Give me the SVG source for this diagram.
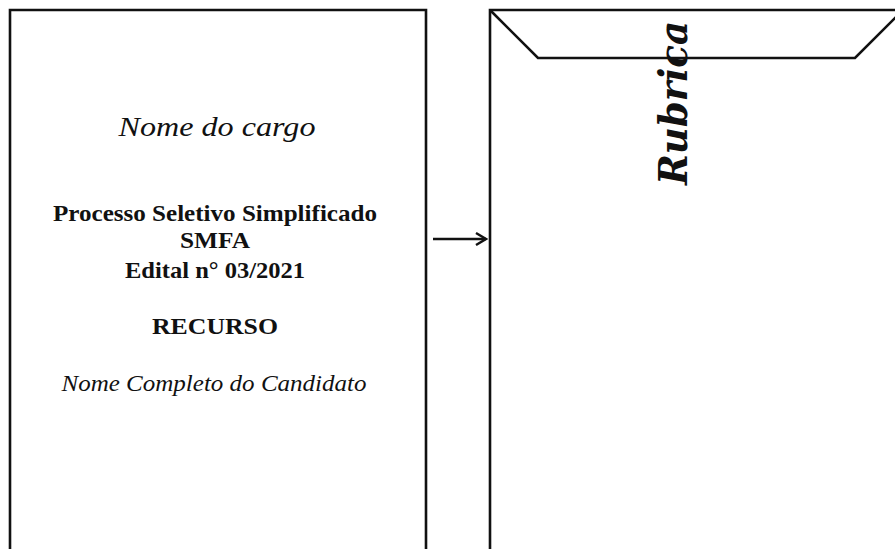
<svg xmlns="http://www.w3.org/2000/svg" width="895" height="549" viewBox="0 0 895 549">
<defs>
<style>
.ln{fill:none;stroke:#111;stroke-width:2.6}
.t{font-family:"Liberation Serif","Times New Roman",serif;fill:#111;text-anchor:middle}
.b{font-weight:bold;font-size:24px}
.i{font-style:italic}
</style>
<marker id="ah" markerWidth="14" markerHeight="14" refX="12" refY="7" orient="auto" markerUnits="userSpaceOnUse">
<path d="M2,1 L12,7 L2,13" fill="none" stroke="#111" stroke-width="2.4"/>
</marker>
</defs>
<rect width="895" height="549" fill="#fff"/>
<g id="folha">
<path class="ln" d="M10,560 V10 H426 V560"/>
<text class="t i" x="217" y="136" font-size="27" textLength="197" lengthAdjust="spacingAndGlyphs">Nome do cargo</text>
<text class="t b" x="215" y="221" textLength="324" lengthAdjust="spacingAndGlyphs">Processo Seletivo  Simplificado</text>
<text class="t b" x="215" y="248" textLength="70" lengthAdjust="spacingAndGlyphs">SMFA</text>
<text class="t b" x="215" y="278" textLength="180" lengthAdjust="spacingAndGlyphs">Edital n° 03/2021</text>
<text class="t b" x="215" y="334" textLength="126" lengthAdjust="spacingAndGlyphs">RECURSO</text>
<text class="t i" x="214" y="391" font-size="24" textLength="305" lengthAdjust="spacingAndGlyphs">Nome Completo do Candidato</text>
</g>
<g id="envelope">
<path class="ln" d="M490,560 V10 H900"/>
<path class="ln" d="M491,11 L538,58 H855 L897,16"/>
<text class="t i" transform="translate(687,103) rotate(-90)" font-size="40" font-weight="bold" style="font-family:'DejaVu Serif',serif" textLength="164" lengthAdjust="spacingAndGlyphs">Rubrica</text>
</g>
<g id="connectors">
<line class="ln" x1="433" y1="239" x2="486" y2="239" marker-end="url(#ah)"/>
</g>
</svg>
